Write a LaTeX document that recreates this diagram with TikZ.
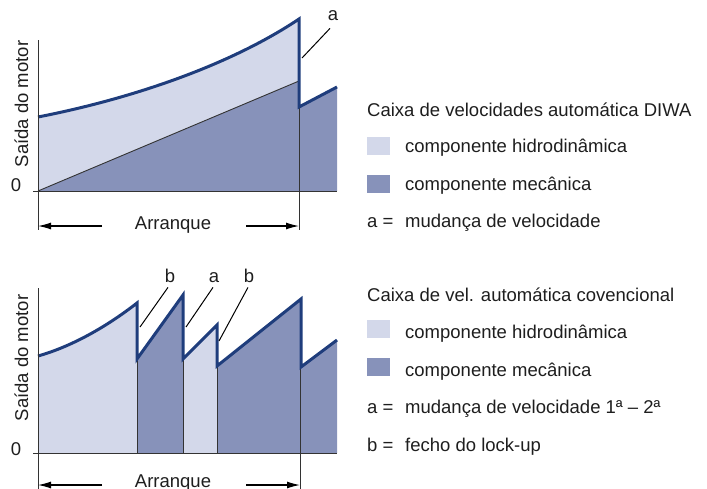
\documentclass[tikz,border=0pt]{standalone}
\usepackage{fontspec}
\setmainfont{Liberation Sans}
\usetikzlibrary{arrows.meta}
\definecolor{hyd}{HTML}{D3D8EA}
\definecolor{mec}{HTML}{8792BA}
\definecolor{curvecol}{HTML}{1F3D7C}
\definecolor{txt}{HTML}{1E1E1E}
\begin{document}
\begin{tikzpicture}[x=1pt,y=-1pt,
  lbl/.style={font=\fontsize{18.5}{22}\selectfont, text=txt, inner sep=0pt},
  thinline/.style={draw=black!80, line width=0.9pt},
  leader/.style={draw=black, line width=1pt},
  powerline/.style={draw=curvecol, line width=3pt, line join=miter},
  dimarrow/.style={draw=black, line width=1.2pt, -{Latex[length=13pt,width=7pt]}},
  swatch/.style={minimum width=23pt, minimum height=18pt, inner sep=0pt, draw=none}]
\useasboundingbox (0,0) rectangle (707,488);

% ================= TOP CHART =================
\fill[hyd] (38,191) -- (38,117) .. controls (140,97) and (235,62) .. (299,19) -- (299,191) -- cycle;
\fill[mec] (38,191) -- (299,81) -- (299,191) -- cycle;
\fill[mec] (299,191) -- (299,107) -- (337,87) -- (337,191) -- cycle;
\draw[thinline] (38,191) -- (299,81);
\draw[thinline] (299,107) -- (299,230);
\draw[powerline] (38,117) .. controls (140,97) and (235,62) .. (299,19) -- (299,107) -- (337,87);
\draw[thinline] (38,40) -- (38,230);
\draw[thinline] (33,191) -- (337,191);

\node[lbl, anchor=base] (zero1) at (16,191) {0};
\node[lbl, rotate=90, anchor=base] (ylab1) at (28,104) {Saída do motor};
\node[lbl, anchor=base] (arr1) at (173,229) {Arranque};
\coordinate (arr1l) at (102,226);
\coordinate (arr1r) at (246,226);
\coordinate (ax1l) at (38,226);
\coordinate (ax1r) at (299,226);
\draw[dimarrow] (arr1l) -- (ax1l);
\draw[dimarrow] (arr1r) -- (ax1r);

\node[lbl, anchor=base] (la) at (333,20) {a};
\coordinate (pa) at (302,58);
\draw[leader] ([shift={(-3,8)}]la.south) -- (pa);

% ================= TOP LEGEND =================
\node[lbl, anchor=base west] (t1) at (367,116) {Caixa de velocidades automática DIWA};
\node[swatch, fill=hyd, anchor=north west] (sw1) at (367,137) {};
\node[lbl, anchor=base west] (t2) at (405,152.5) {componente hidrodinâmica};
\node[swatch, fill=mec, anchor=north west] (sw2) at (367,175) {};
\node[lbl, anchor=base west] (t3) at (405,190) {componente mecânica};
\node[lbl, anchor=base west] (t4a) at (367,227.5) {a =};
\node[lbl, anchor=base west] (t4) at (405,227.5) {mudança de velocidade};

% ================= BOTTOM CHART =================
\fill[hyd] (38,453) -- (38,356) .. controls (70,347) and (105,328) .. (137,303) -- (137,453) -- cycle;
\fill[mec] (137,453) -- (137,359) -- (183,295) -- (183,453) -- cycle;
\fill[hyd] (183,453) -- (183,359) -- (217,325) -- (217,453) -- cycle;
\fill[mec] (217,453) -- (217,366) -- (301,299) -- (301,453) -- cycle;
\fill[mec] (301,453) -- (301,367) -- (337,340) -- (337,453) -- cycle;
\draw[thinline] (137,359) -- (137,453);
\draw[thinline] (183,359) -- (183,453);
\draw[thinline] (217,366) -- (217,453);
\draw[thinline] (300,367) -- (300,492);
\draw[powerline] (38,356) .. controls (70,347) and (105,328) .. (137,303) -- (137,359) -- (183,295) -- (183,359) -- (217,325) -- (217,366) -- (301,299) -- (301,367) -- (337,340);
\draw[thinline] (38,288) -- (38,492);
\draw[thinline] (33,453) -- (337,453);

\node[lbl, anchor=base] (zero2) at (16,455) {0};
\node[lbl, rotate=90, anchor=base] (ylab2) at (28,358) {Saída do motor};
\node[lbl, anchor=base] (arr2) at (173,487.5) {Arranque};
\coordinate (arr2l) at (102,485);
\coordinate (arr2r) at (246,485);
\coordinate (ax2l) at (38,485);
\coordinate (ax2r) at (300,485);
\draw[dimarrow] (arr2l) -- (ax2l);
\draw[dimarrow] (arr2r) -- (ax2r);

\node[lbl, anchor=base] (lb1) at (170,282) {b};
\node[lbl, anchor=base] (la2) at (214,282) {a};
\node[lbl, anchor=base] (lb2) at (249,282) {b};
\coordinate (pb1) at (140,327);
\coordinate (pa2) at (186,327);
\coordinate (pb2) at (219,341);
\draw[leader] ([shift={(-2,5)}]lb1.south) -- (pb1);
\draw[leader] ([shift={(-1,5)}]la2.south) -- (pa2);
\draw[leader] ([shift={(-1,5)}]lb2.south) -- (pb2);

% ================= BOTTOM LEGEND =================
\node[lbl, anchor=base west] (u1) at (367,301) {Caixa de vel. automática covencional};
\node[swatch, fill=hyd, anchor=north west] (sw3) at (367,320) {};
\node[lbl, anchor=base west] (u2) at (405,338.5) {componente hidrodinâmica};
\node[swatch, fill=mec, anchor=north west] (sw4) at (367,358) {};
\node[lbl, anchor=base west] (u3) at (405,376) {componente mecânica};
\node[lbl, anchor=base west] (u4a) at (367,413) {a =};
\node[lbl, anchor=base west] (u4) at (405,413) {mudança de velocidade 1ª – 2ª};
\node[lbl, anchor=base west] (u5a) at (367,451.5) {b =};
\node[lbl, anchor=base west] (u5) at (405,451.5) {fecho do lock-up};
\end{tikzpicture}
\end{document}
